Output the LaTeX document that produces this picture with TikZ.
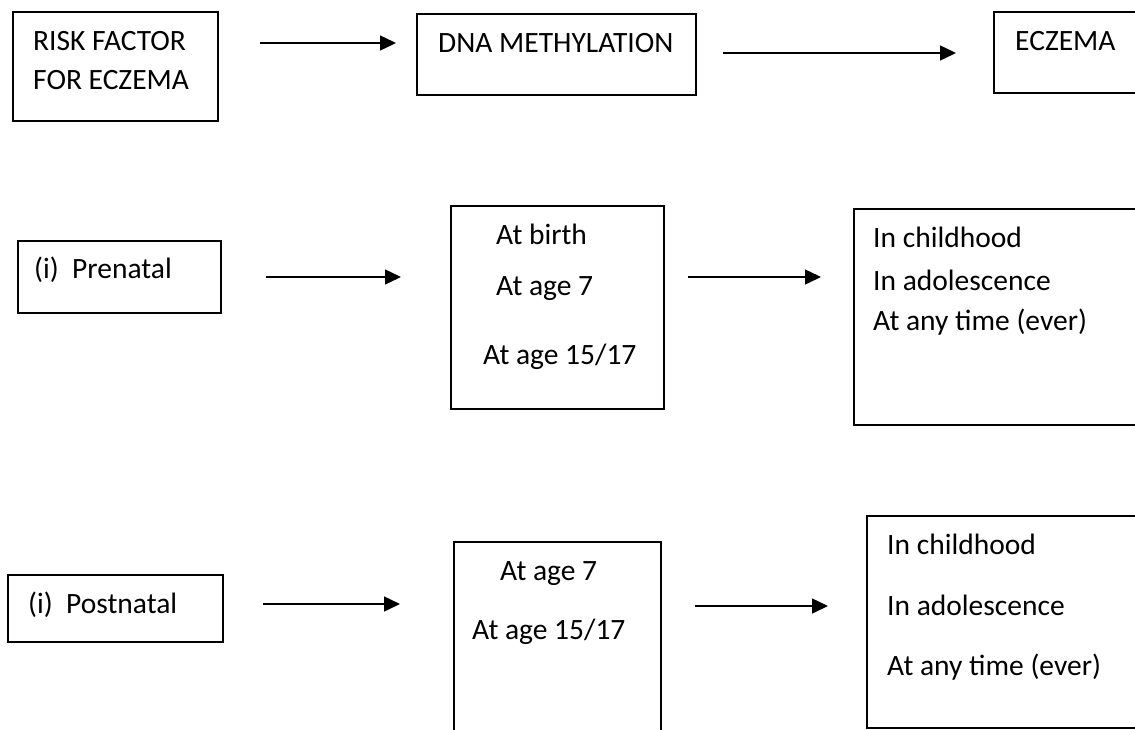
\documentclass[tikz,border=0pt]{standalone}
\usepackage{fontspec}
\setmainfont{Carlito}
\usetikzlibrary{arrows.meta}
\begin{document}
\begin{tikzpicture}[x=1pt,y=-1pt,
  every node/.style={font=\fontsize{29.5}{35}\selectfont},
  box/.style={draw, line width=1.5pt, inner sep=0pt, anchor=north west},
  txt/.style={anchor=base west, inner sep=0pt},
  arr/.style={line width=1.5pt, -{Triangle[length=16pt,width=15pt]}}]
\useasboundingbox (0,0) rectangle (1135,729);
\clip (0,0) rectangle (1135,729);
% Row 1
\node[box, minimum width=205pt, minimum height=109pt] (b1) at (12,11) {};
\node[box, minimum width=279pt, minimum height=81pt] (b2) at (416,13) {};
\node[box, minimum width=170pt, minimum height=81pt] (b3) at (993,11) {};
\node[txt] (t1a) at (33,50) {RISK FACTOR};
\node[txt] (t1b) at (33,89) {FOR ECZEMA};
\node[txt] (t2) at (438,52) {DNA METHYLATION};
\node[txt] (t3) at (1015,50) {ECZEMA};
\coordinate (a1s) at (260,43); \coordinate (a1e) at (396,43);
\coordinate (a2s) at (723,53); \coordinate (a2e) at (956,53);
\draw[arr] (a1s) -- (a1e);
\draw[arr] (a2s) -- (a2e);
% Row 2
\node[box, minimum width=203pt, minimum height=72pt] (p1) at (17,240) {};
\node[box, minimum width=213pt, minimum height=203pt] (p2) at (450,205) {};
\node[box, minimum width=320pt, minimum height=216pt] (p3) at (853,208) {};
\node[txt] (pt1) at (34,278) {(i)\ \ Prenatal};
\node[txt] (pt2a) at (496,244) {At birth};
\node[txt] (pt2b) at (496,295) {At age 7};
\node[txt] (pt2c) at (483,364) {At age 15/17};
\node[txt] (pt3a) at (873,247) {In childhood};
\node[txt] (pt3b) at (873,290) {In adolescence};
\node[txt] (pt3c) at (873,330) {At any time (ever)};
\coordinate (a3s) at (266,277); \coordinate (a3e) at (401,277);
\coordinate (a4s) at (688,277); \coordinate (a4e) at (821,277);
\draw[arr] (a3s) -- (a3e);
\draw[arr] (a4s) -- (a4e);
% Row 3
\node[box, minimum width=215pt, minimum height=67pt] (q1) at (7,574) {};
\node[box, minimum width=207pt, minimum height=240pt] (q2) at (453,541) {};
\node[box, minimum width=320pt, minimum height=212pt] (q3) at (866,515) {};
\node[txt] (qt1) at (28,613) {(i)\ \ Postnatal};
\node[txt] (qt2a) at (500,580) {At age 7};
\node[txt] (qt2b) at (472,639) {At age 15/17};
\node[txt] (qt3a) at (887,554) {In childhood};
\node[txt] (qt3b) at (887,615) {In adolescence};
\node[txt] (qt3c) at (887,675) {At any time (ever)};
\coordinate (a5s) at (263,604); \coordinate (a5e) at (400,604);
\coordinate (a6s) at (695,606); \coordinate (a6e) at (828,606);
\draw[arr] (a5s) -- (a5e);
\draw[arr] (a6s) -- (a6e);
\end{tikzpicture}
\end{document}
